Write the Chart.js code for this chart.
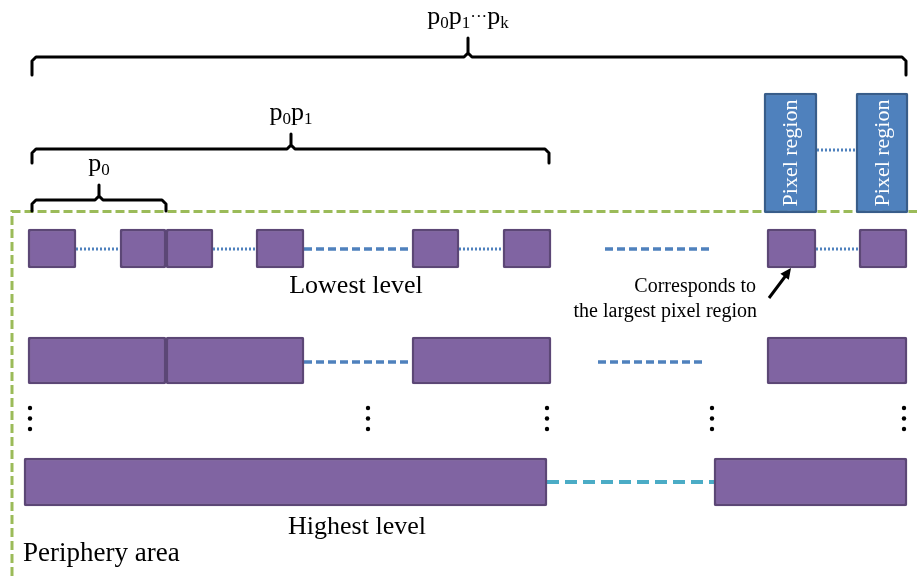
<!DOCTYPE html>
<html>
<head>
<meta charset="utf-8">
<script src="https://cdn.jsdelivr.net/npm/chart.js@4.4.1/dist/chart.umd.min.js"></script>
<style>
  html, body { margin: 0; padding: 0; background: #fff; }
  canvas { display: block; }
</style>
</head>
<body>
<canvas id="diagram" width="917" height="576"></canvas>
<script>
// boxes on each level, as [start, end] along the image
const lowestBoxes = [[28, 76], [120, 166], [166, 213], [256, 304], [412, 459], [503, 551], [767, 816], [859, 907]];
const middleBoxes = [[28, 166], [166, 304], [412, 551], [767, 907]];
const highestBoxes = [[24, 547], [714, 907]];
const pixelRegions = [[764, 817], [856, 908]];

// links between boxes
const lowestDotted = [[76, 120], [213, 256], [459, 503], [816, 859]];
const lowestDashed = [[304, 412], [605, 711]];
const middleDashed = [[304, 412], [598, 703]];
const highestDashed = [[547, 714]];
const regionDotted = [[817, 856]];

// vertical ellipses between middle and highest level
const ellipsisColumns = [30, 368, 547, 712, 904];

// brackets: [from, to, middle]
const bracketSpans = [[32, 906, 468], [32, 549, 291], [32, 166, 99]];
const bracketLabels = [
  [['p', '0'], ['p', '1'], ['\u00b7\u00b7\u00b7', ''], ['p', 'k']],
  [['p', '0'], ['p', '1']],
  [['p', '0']]
];

const levelNames = ['Lowest level', 'Highest level'];
const noteLines = ['Corresponds to', 'the largest pixel region'];
const areaName = 'Periphery area';
const regionName = 'Pixel region';

// layout (pixels == units, scales run 0..917 and 0..576)
const rowY = { lowest: 248.5, middle: 360.5, highest: 482, region: 153, links: [249, 362, 482] };
const rowH = { lowest: 39, middle: 47, highest: 48, region: 120 };
const bracketY = [[57, 75, 38], [149, 163, 134], [200, 211, 185]];
const dotY = [408, 418.5, 429];
const SERIF = '"Liberation Serif", "DejaVu Serif", serif';

const PURPLE = '#8064a2', PURPLE_EDGE = '#5c4776';
const BLUE = '#4f81bd', BLUE_EDGE = '#385d8a';

function boxSet(spans, y, thick, fill, edge) {
  return {
    type: 'bar', indexAxis: 'y', grouped: false,
    data: spans.map(s => ({ x: s, y: y })),
    barThickness: thick,
    backgroundColor: fill, borderColor: edge, borderWidth: 2.5,
    borderSkipped: false, borderRadius: 2, order: 1
  };
}

function linkSets(spans, y, color, dash, width) {
  return spans.map(s => ({
    type: 'line', data: [{ x: s[0], y: y }, { x: s[1], y: y }],
    borderColor: color, borderDash: dash, borderWidth: width,
    pointRadius: 0, fill: false, order: 3
  }));
}

function bracketSet(span, ys) {
  const [a, b, m] = span, [y, hook, tip] = ys;
  return {
    type: 'line',
    data: [
      { x: a, y: hook }, { x: a, y: y + 4 }, { x: a + 4, y: y }, { x: m - 4, y: y },
      { x: m, y: y - 4 }, { x: m, y: tip }, { x: m, y: y - 4 }, { x: m + 4, y: y },
      { x: b - 4, y: y }, { x: b, y: y + 4 }, { x: b, y: hook }
    ],
    borderColor: '#000', borderWidth: 3, borderJoinStyle: 'round', borderCapStyle: 'round',
    pointRadius: 0, fill: false, tension: 0, order: 2
  };
}

const datasets = [];
datasets.push({
  type: 'line', data: [{ x: 12, y: 576 }, { x: 12, y: 211.5 }, { x: 917, y: 211.5 }],
  borderColor: '#9bbb59', borderDash: [9, 4], borderWidth: 3, pointRadius: 0, fill: false, order: 5
});
datasets.push(boxSet(lowestBoxes, rowY.lowest, rowH.lowest, PURPLE, PURPLE_EDGE));
datasets.push(boxSet(middleBoxes, rowY.middle, rowH.middle, PURPLE, PURPLE_EDGE));
datasets.push(boxSet(highestBoxes, rowY.highest, rowH.highest, PURPLE, PURPLE_EDGE));
datasets.push(boxSet(pixelRegions, rowY.region, rowH.region, BLUE, BLUE_EDGE));
datasets.push(...linkSets(lowestDotted, rowY.links[0], BLUE, [2, 2], 3));
datasets.push(...linkSets(lowestDashed, rowY.links[0], BLUE, [8, 4], 3.5));
datasets.push(...linkSets(middleDashed, rowY.links[1], BLUE, [8, 4], 3.5));
datasets.push(...linkSets(highestDashed, rowY.links[2], '#4bacc6', [12, 6], 4));
datasets.push(...linkSets(regionDotted, 150, BLUE, [2, 2], 3));
bracketSpans.forEach((s, i) => datasets.push(bracketSet(s, bracketY[i])));
datasets.push({
  type: 'scatter',
  data: ellipsisColumns.flatMap(x => dotY.map(y => ({ x: x, y: y }))),
  pointRadius: 2.2, pointBackgroundColor: '#000', pointBorderWidth: 0, order: 2
});

// p0p1... labels with subscripts
function drawSubscripted(ctx, parts, cx, base) {
  const big = '26px ' + SERIF, small = '17px ' + SERIF;
  const mainFont = p => p.startsWith('\u00b7') ? small : big;
  let w = 0;
  parts.forEach(p => {
    ctx.font = mainFont(p[0]); w += ctx.measureText(p[0]).width;
    ctx.font = small; w += ctx.measureText(p[1]).width;
  });
  let x = cx - w / 2;
  ctx.textAlign = 'left';
  ctx.textBaseline = 'alphabetic';
  parts.forEach(p => {
    const dots = p[0].startsWith('\u00b7');
    ctx.font = mainFont(p[0]);
    ctx.fillText(p[0], x, dots ? base - 2 : base);
    x += ctx.measureText(p[0]).width;
    ctx.font = small; ctx.fillText(p[1], x, base + 4);
    x += ctx.measureText(p[1]).width;
  });
}

const textPlugin = {
  id: 'diagramText',
  afterDatasetsDraw(chart) {
    const ctx = chart.ctx, xs = chart.scales.x, ys = chart.scales.y;
    const X = v => xs.getPixelForValue(v), Y = v => ys.getPixelForValue(v);
    ctx.save();
    ctx.fillStyle = '#000';
    const labelBase = [24, 120, 171];
    bracketLabels.forEach((parts, i) => drawSubscripted(ctx, parts, X(bracketSpans[i][2]), Y(labelBase[i])));

    ctx.textBaseline = 'alphabetic';
    ctx.textAlign = 'center';
    ctx.font = '26px ' + SERIF;
    ctx.fillText(levelNames[0], X(356), Y(293));
    ctx.fillText(levelNames[1], X(357), Y(534));
    ctx.textAlign = 'left';
    ctx.font = '27px ' + SERIF;
    ctx.fillText(areaName, X(23), Y(561));

    ctx.textAlign = 'right';
    ctx.font = '20px ' + SERIF;
    ctx.fillText(noteLines[0], X(756), Y(292));
    ctx.fillText(noteLines[1], X(757), Y(317));

    // arrow to the lowest level box
    const ax = X(769), ay = Y(298), bx = X(791), by = Y(268);
    ctx.strokeStyle = '#000';
    ctx.lineWidth = 3;
    ctx.beginPath(); ctx.moveTo(ax, ay); ctx.lineTo(bx - 4, by + 6); ctx.stroke();
    const ang = Math.atan2(by - ay, bx - ax);
    ctx.beginPath();
    ctx.moveTo(bx, by);
    ctx.lineTo(bx - 12 * Math.cos(ang - 0.45), by - 12 * Math.sin(ang - 0.45));
    ctx.lineTo(bx - 12 * Math.cos(ang + 0.45), by - 12 * Math.sin(ang + 0.45));
    ctx.closePath(); ctx.fill();

    // rotated text in the pixel regions
    ctx.fillStyle = '#fff';
    ctx.font = '22px ' + SERIF;
    ctx.textAlign = 'center';
    ctx.textBaseline = 'middle';
    pixelRegions.forEach(s => {
      ctx.save();
      ctx.translate(X((s[0] + s[1]) / 2), Y(rowY.region));
      ctx.rotate(-Math.PI / 2);
      ctx.fillText(regionName, 0, 1);
      ctx.restore();
    });
    ctx.restore();
  }
};

new Chart(document.getElementById('diagram'), {
  type: 'line',
  data: { datasets: datasets },
  options: {
    responsive: false,
    animation: false,
    devicePixelRatio: 1,
    layout: { padding: 0, autoPadding: false },
    scales: {
      x: { type: 'linear', min: 0, max: 917, display: false, offset: false },
      y: { type: 'linear', min: 0, max: 576, reverse: true, display: false, offset: false }
    },
    plugins: { legend: { display: false }, tooltip: { enabled: false } },
    elements: { line: { tension: 0 } }
  },
  plugins: [textPlugin]
});
</script>
</body>
</html>
